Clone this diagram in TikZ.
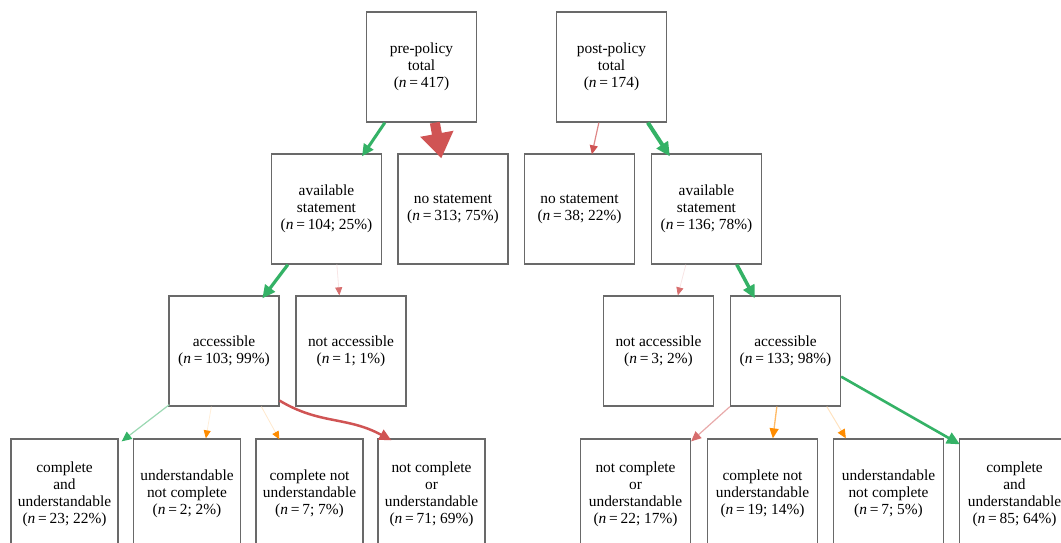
\documentclass[tikz,border=0pt]{standalone}
\usepackage{fontspec}
\setmainfont{Liberation Serif}
\usetikzlibrary{arrows.meta,calc}
\definecolor{boxgray}{RGB}{105,105,105}
\definecolor{grn}{RGB}{52,178,102}
\definecolor{rd}{RGB}{208,84,84}
\definecolor{org}{RGB}{255,140,0}
\newcommand{\nn}[1]{(\textit{n}\hspace{2.8pt}=\hspace{2.8pt}#1)}
\tikzset{
  box/.style={draw=boxgray, line width=1.3pt, minimum width=110pt, minimum height=110pt,
    inner sep=0pt, align=center, fill=white, font=\fontsize{15.4}{17}\selectfont},
  sbox/.style={box, minimum width=107pt},
}
\begin{document}
\begin{tikzpicture}[x=1pt,y=-1pt]
\useasboundingbox (0,0) rectangle (1061,543);
\clip (0,0) rectangle (1061,543);
% row 1
\node[box] (pre)  at (421.5,67) {pre-policy\\total\\\nn{417}};
\node[box] (post) at (611.5,67) {post-policy\\total\\\nn{174}};
% row 2
\node[box] (availL) at (326.5,209) {available\\statement\\\nn{104; 25\%}};
\node[box] (noL)    at (453,209)   {no statement\\\nn{313; 75\%}};
\node[box] (noR)    at (579.5,209) {no statement\\\nn{38; 22\%}};
\node[box] (availR) at (706.5,209) {available\\statement\\\nn{136; 78\%}};
% row 3
\node[box] (accL) at (224,351)   {accessible\\\nn{103; 99\%}};
\node[box] (naL)  at (351,351)   {not accessible\\\nn{1; 1\%}};
\node[box] (naR)  at (658.5,351) {not accessible\\\nn{3; 2\%}};
\node[box] (accR) at (785.5,351) {accessible\\\nn{133; 98\%}};
% row 4 left
\node[sbox] (b1) at (64.5,494)  {complete\\and\\understandable\\\nn{23; 22\%}};
\node[sbox] (b2) at (187,494)   {understandable\\not complete\\\nn{2; 2\%}};
\node[sbox] (b3) at (309.5,494) {complete not\\understandable\\\nn{7; 7\%}};
\node[sbox] (b4) at (431.5,494) {not complete\\or\\understandable\\\nn{71; 69\%}};
% row 4 right
\node[box] (c1) at (635.5,494)  {not complete\\or\\understandable\\\nn{22; 17\%}};
\node[box] (c2) at (762.5,494)  {complete not\\understandable\\\nn{19; 14\%}};
\node[box] (c3) at (888.5,494)  {understandable\\not complete\\\nn{7; 5\%}};
\node[box] (c4) at (1014.5,494) {complete\\and\\understandable\\\nn{85; 64\%}};
% connectors
\draw[grn, line width=3pt, -{Triangle[length=12pt,width=11pt]}]
  ($(pre.south west)+(19,0)$) -- ($(availL.north)+(35.5,3)$);
\draw[rd, line width=10pt, -{Triangle[length=25pt,width=32pt]}]
  ($(pre.south west)+(69,0)$) -- ($(noL.north west)+(44,5)$);
\draw[rd!70, line width=1.2pt, -{Triangle[length=9pt,width=8pt,color=rd]}]
  ($(post.south west)+(43,0)$) -- ($(noR.north west)+(68,1)$);
\draw[grn, line width=4pt, -{Triangle[length=14pt,width=13pt]}]
  ($(post.south west)+(92,0)$) -- ($(availR.north west)+(19,3)$);
\draw[grn, line width=3.2pt, -{Triangle[length=13pt,width=12pt]}]
  ($(availL.south west)+(17,0)$) -- ($(accL.north west)+(94,3)$);
\draw[rd!15, line width=0.8pt, -{Triangle[length=8pt,width=7pt,color=rd!85]}]
  ($(availL.south west)+(66,0)$) -- ($(naL.north west)+(44,0)$);
\draw[rd!15, line width=0.8pt, -{Triangle[length=8pt,width=7pt,color=rd!85]}]
  ($(availR.south west)+(35,0)$) -- ($(naR.north west)+(75,0)$);
\draw[grn, line width=3.5pt, -{Triangle[length=13pt,width=12pt]}]
  ($(availR.south west)+(86,0)$) -- ($(accR.north west)+(25,3)$);
\draw[grn!50, line width=1.2pt, -{Triangle[length=10pt,width=9pt,color=grn]}]
  ($(accL.south west)+(1,-2)$) -- ($(b1.north east)+(3,3)$);
\draw[org!15, line width=0.8pt, -{Triangle[length=8pt,width=7pt,color=org]}]
  ($(accL.south west)+(43,0)$) -- ($(b2.north west)+(73,0)$);
\draw[org!20, line width=0.8pt, -{Triangle[length=8pt,width=7pt,color=org]}]
  ($(accL.south west)+(93,0)$) -- ($(b3.north west)+(24,1)$);
\draw[rd, line width=2.5pt, -{Triangle[length=12pt,width=11pt]}]
  ($(accL.south east)+(0,-6)$) .. controls ($(accL.south east)+(40,18)$) and ($(b4.north west)+(-30,-22)$) .. ($(b4.north west)+(14,2)$);
\draw[rd!50, line width=1.2pt, -{Triangle[length=10pt,width=9pt,color=rd!85]}]
  (accR.south west) -- ($(c1.north east)+(0,3)$);
\draw[org!60, line width=1.3pt, -{Triangle[length=10pt,width=9pt,color=org]}]
  ($(accR.south west)+(47,0)$) -- ($(c2.north west)+(66,0)$);
\draw[org!25, line width=1pt, -{Triangle[length=9pt,width=8pt,color=org]}]
  ($(accR.south west)+(97,0)$) -- ($(c3.north west)+(13,0)$);
\draw[grn, line width=2.6pt, -{Triangle[length=13pt,width=12pt]}]
  ($(accR.south east)+(0,-30)$) -- ($(c4.north west)+(1,6)$);
\end{tikzpicture}
\end{document}
